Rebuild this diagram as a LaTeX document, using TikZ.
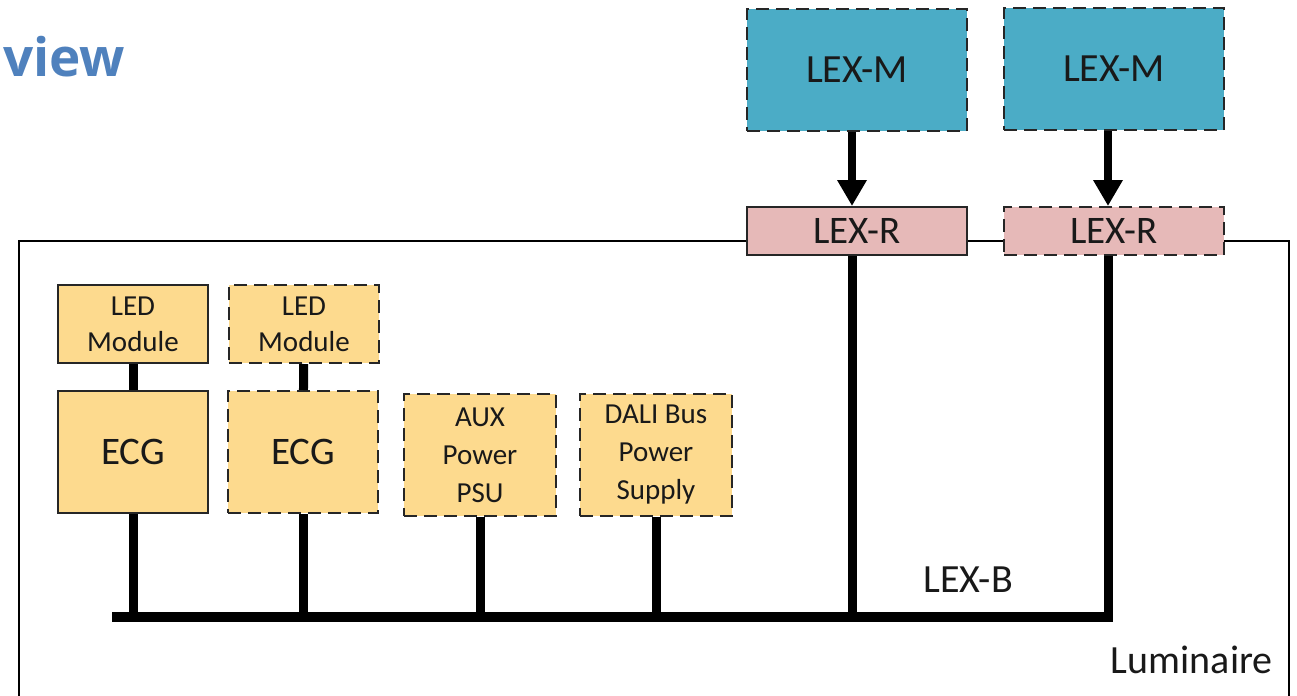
\documentclass[tikz,border=0pt]{standalone}
\usepackage{fontspec}
\setmainfont{Carlito}
\newfontfamily\titlefont{Open Sans}
\usetikzlibrary{arrows.meta}
\definecolor{lexteal}{RGB}{75,172,198}
\definecolor{lexpink}{RGB}{230,185,184}
\definecolor{ecggold}{RGB}{253,218,142}
\definecolor{titleblue}{RGB}{79,129,189}
\tikzset{
  unitbox/.style={draw=black!85, line width=1pt, text=black!90, align=center, inner sep=0pt},
  optbox/.style={dash pattern=on 6.5pt off 3.5pt},
  lexmnode/.style={unitbox, fill=lexteal, minimum width=110pt, minimum height=61pt, font=\fontsize{20}{22}\selectfont},
  lexrnode/.style={unitbox, fill=lexpink, minimum width=110pt, minimum height=24pt, font=\fontsize{19.5}{22}\selectfont},
  lednode/.style={unitbox, fill=ecggold, minimum width=75pt, minimum height=39pt, font=\fontsize{14.5}{18}\selectfont},
  ecgnode/.style={unitbox, fill=ecggold, minimum width=75pt, minimum height=61pt, font=\fontsize{19.5}{22}\selectfont},
  psunode/.style={unitbox, fill=ecggold, minimum width=76pt, minimum height=61pt, font=\fontsize{14.5}{19}\selectfont},
  busline/.style={line width=4.5pt},
  feedarrow/.style={-{Triangle[width=14pt,length=13pt]}, line width=4pt},
  plainlabel/.style={font=\fontsize{20}{24}\selectfont, text=black!90, inner sep=0pt}
}
\begin{document}
\begin{tikzpicture}[x=0.5pt, y=-0.5pt]
  \useasboundingbox (0,0) rectangle (1297,696);
  \clip (0,0) rectangle (1297,696);
  % luminaire frame
  \draw[line width=0.75pt] (19,720) |- (1289,241) -- (1289,720);
  \node[anchor=base west, inner sep=0pt, text=titleblue, font=\titlefont\bfseries\fontsize{26.5}{30}\selectfont] (title) at (3,76) {view};
  % extension modules
  \node[lexmnode, optbox] (lexm1) at (857,70) {LEX-M};
  \node[lexmnode, optbox] (lexm2) at (1114,69) {LEX-M};
  \node[lexrnode] (lexr1) at (857,231) {LEX-R};
  \node[lexrnode, optbox] (lexr2) at (1114,231) {LEX-R};
  \draw[feedarrow] ([xshift=-2.5pt]lexm1.south) -- ([xshift=-2.5pt]lexr1.north);
  \draw[feedarrow] ([xshift=-3pt]lexm2.south) -- ([xshift=-3pt]lexr2.north);
  % luminaire units
  \node[lednode] (led1) at (133,324) {LED\\Module};
  \node[lednode, optbox] (led2) at (304,324) {LED\\Module};
  \node[ecgnode] (ecg1) at (133,452) {ECG};
  \node[ecgnode, optbox] (ecg2) at (303,452) {ECG};
  \node[psunode, optbox] (aux) at (480,455) {AUX\\Power\\PSU};
  \node[psunode, optbox] (dali) at (656,455) {DALI Bus\\Power\\Supply};
  \draw[busline] (led1) -- (ecg1);
  \draw[busline] (led2) -- (ecg2);
  % LEX-B bus
  \coordinate (busL) at (112,617);
  \coordinate (busR) at (1113,617);
  \draw[line width=5pt] (busL) -- (busR);
  \foreach \unit in {ecg1, ecg2, aux, dali}
    \draw[busline] (\unit.south) -- (\unit.south |- busL);
  \draw[busline] ([xshift=-2.5pt]lexr1.south) -- ([xshift=-2.5pt]lexr1.south |- busL);
  \draw[busline] ([xshift=-3pt]lexr2.south) -- ([xshift=-3pt]lexr2.south |- busL);
  \node[plainlabel] (lexb) at (968,580) {LEX-B};
  \node[plainlabel, anchor=east] (lum) at (1273,660) {Luminaire};
\end{tikzpicture}
\end{document}
